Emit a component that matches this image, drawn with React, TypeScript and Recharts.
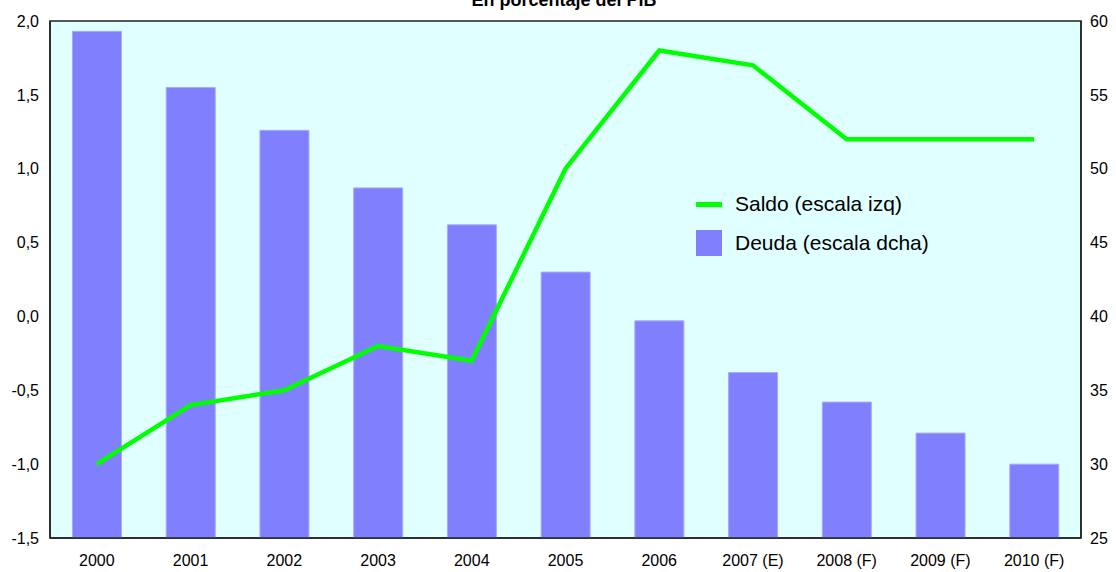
import React from "react";
import {
  Bar,
  ComposedChart,
  Line,
  ReferenceArea,
  XAxis,
  YAxis,
} from "recharts";

const YEARS = [
  "2000",
  "2001",
  "2002",
  "2003",
  "2004",
  "2005",
  "2006",
  "2007 (E)",
  "2008 (F)",
  "2009 (F)",
  "2010 (F)",
];
const SALDO = [-1.0, -0.6, -0.5, -0.2, -0.3, 1.0, 1.8, 1.7, 1.2, 1.2, 1.2];
const DEUDA = [59.3, 55.5, 52.6, 48.7, 46.2, 43.0, 39.7, 36.2, 34.2, 32.1, 30.0];
const LEFT_TICKS = [-1.5, -1.0, -0.5, 0, 0.5, 1.0, 1.5, 2.0];
const RIGHT_TICKS = [25, 30, 35, 40, 45, 50, 55, 60];

const GREEN = "#00FF00";
const BLUE = "#8080FF";
const FONT = "Arial, 'Liberation Sans', sans-serif";

const data = YEARS.map((year, i) => ({
  year,
  saldo: SALDO[i],
  deuda: DEUDA[i],
}));

const fmt = (v: number) => v.toFixed(1).replace(".", ",");

// legend sits inside the plot, drawn as plain html over the svg
const LegendBox = () => (
  <div
    style={{
      position: "absolute",
      left: 696,
      top: 191,
      fontFamily: FONT,
      fontSize: 21,
      color: "#000",
    }}
  >
    <div style={{ display: "flex", alignItems: "center", height: 26 }}>
      <div style={{ width: 26, height: 5, background: GREEN, marginRight: 13 }} />
      <span>Saldo (escala izq)</span>
    </div>
    <div style={{ display: "flex", alignItems: "center", height: 26, marginTop: 13 }}>
      <div style={{ width: 26, height: 26, background: BLUE, marginRight: 13 }} />
      <span>Deuda (escala dcha)</span>
    </div>
  </div>
);

export default function App() {
  return (
    <div style={{ position: "absolute", left: 0, top: 0, width: 1116, height: 572, background: "#fff" }}>
      <ComposedChart
        width={1116}
        height={572}
        data={data}
        margin={{ top: 21, right: 0, bottom: 0, left: 0 }}
        barCategoryGap="24%"
      >
        <XAxis
          dataKey="year"
          tickLine={false}
          axisLine={{ stroke: "#222", strokeWidth: 1.5 }}
          tick={{ fill: "#000", fontSize: 16, fontFamily: FONT }}
          tickMargin={11}
          height={34}
        />
        <YAxis
          yAxisId="left"
          orientation="left"
          domain={[-1.5, 2]}
          ticks={LEFT_TICKS}
          tickFormatter={fmt}
          tickLine={false}
          axisLine={{ stroke: "#222", strokeWidth: 1.5 }}
          tick={{ fill: "#000", fontSize: 16, fontFamily: FONT }}
          tickMargin={5}
          width={50}
          allowDataOverflow
        />
        <YAxis
          yAxisId="right"
          orientation="right"
          domain={[25, 60]}
          ticks={RIGHT_TICKS}
          tickLine={false}
          axisLine={{ stroke: "#222", strokeWidth: 1.5 }}
          tick={{ fill: "#000", fontSize: 16, fontFamily: FONT }}
          tickMargin={3}
          width={35}
          allowDataOverflow
        />
        <ReferenceArea
          yAxisId="left"
          y1={-1.5}
          y2={2}
          fill="#E0FFFF"
          fillOpacity={1}
          stroke="#222"
          strokeWidth={1.5}
        />
        <Bar
          yAxisId="right"
          dataKey="deuda"
          name="Deuda (escala dcha)"
          fill={BLUE}
          stroke="#A8A8FF"
          strokeWidth={1}
          isAnimationActive={false}
        />
        <Line
          yAxisId="left"
          dataKey="saldo"
          name="Saldo (escala izq)"
          stroke={GREEN}
          strokeWidth={4.5}
          dot={false}
          activeDot={false}
          strokeLinejoin="miter"
          isAnimationActive={false}
        />
      </ComposedChart>
      <div
        style={{
          position: "absolute",
          top: -9,
          left: 0,
          width: 1128,
          textAlign: "center",
          fontFamily: FONT,
          fontWeight: "bold",
          fontSize: 18,
          lineHeight: "18px",
        }}
      >
        En porcentaje del PIB
      </div>
      <LegendBox />
    </div>
  );
}
